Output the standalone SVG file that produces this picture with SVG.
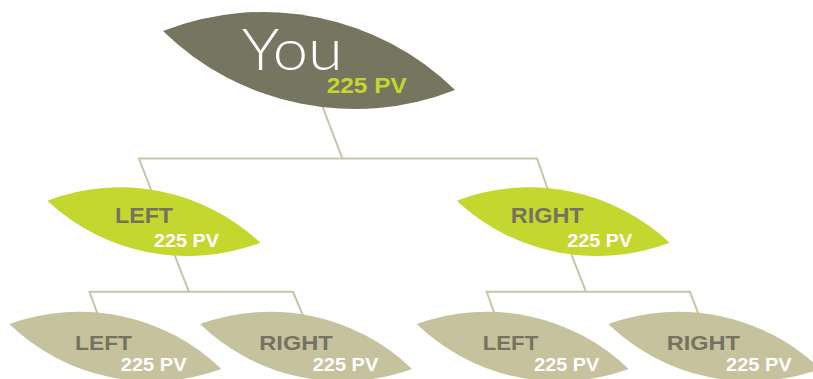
<svg xmlns="http://www.w3.org/2000/svg" width="813" height="379" viewBox="0 0 813 379">
<style>
.bg{fill:#ffffff}
.con{fill:none;stroke:#c9c5a5;stroke-width:2}
.you{fill:#76755f}
.lime{fill:#c3d72f}
.tan{fill:#c6c29e}
.lbl{font-family:"Liberation Sans",Arial,sans-serif;font-weight:bold;fill:#75735f}
.pvw{font-family:"Liberation Sans",Arial,sans-serif;font-weight:bold;fill:#ffffff}
.pvl{font-family:"Liberation Sans",Arial,sans-serif;font-weight:bold;fill:#c3d72f}
.youtxt{font-family:Lato,"Open Sans",sans-serif;font-weight:300;fill:#ffffff}
</style>
<defs>
<path id="leaf2" d="M0,0 A205.4,205.4 0 0 1 213,42 A205.4,205.4 0 0 1 0,0 Z"/>
<path id="leaf3" d="M0,0 A204.9,204.9 0 0 1 212,45 A204.9,204.9 0 0 1 0,0 Z"/>
</defs>
<rect class="bg" x="0" y="0" width="813" height="379"/>
<g id="connectors">
<path class="con" d="M320,100 L342.3,158.3"/>
<path class="con" d="M153,195 L139,158.5 H537 L548,190"/>
<path class="con" d="M172.6,250 L189,291.8"/>
<path class="con" d="M99,318 L89.5,291.8 H293 L304,318"/>
<path class="con" d="M569.6,250 L586,291.8"/>
<path class="con" d="M496,318 L486.7,291.8 H690 L700,318"/>
</g>
<g id="you">
<path class="you" d="M163,31 A274.3,274.3 0 0 1 455,90 A274.3,274.3 0 0 1 163,31 Z"/>
<text class="youtxt" x="241.7" y="70" font-size="57" textLength="101" lengthAdjust="spacingAndGlyphs">You</text>
<text class="pvl" x="326.7" y="92.7" font-size="21.4" textLength="80" lengthAdjust="spacingAndGlyphs">225 PV</text>
</g>
<g id="left">
<use href="#leaf2" class="lime" x="47.3" y="200.7"/>
<text class="lbl" x="115" y="222.7" font-size="21.4" textLength="58" lengthAdjust="spacingAndGlyphs">LEFT</text>
<text class="pvw" x="154" y="246.7" font-size="18.6" textLength="65" lengthAdjust="spacingAndGlyphs">225 PV</text>
</g>
<g id="right">
<use href="#leaf2" class="lime" x="456.7" y="200.7"/>
<text class="lbl" x="510.7" y="222.7" font-size="21.4" textLength="73" lengthAdjust="spacingAndGlyphs">RIGHT</text>
<text class="pvw" x="567.3" y="246.7" font-size="18.6" textLength="65" lengthAdjust="spacingAndGlyphs">225 PV</text>
</g>
<g id="left-left">
<use href="#leaf3" class="tan" x="9.3" y="324"/>
<text class="lbl" x="75" y="350" font-size="21" textLength="57" lengthAdjust="spacingAndGlyphs">LEFT</text>
<text class="pvw" x="120.7" y="370.7" font-size="18.6" textLength="66" lengthAdjust="spacingAndGlyphs">225 PV</text>
</g>
<g id="left-right">
<use href="#leaf3" class="tan" x="200" y="324"/>
<text class="lbl" x="259.3" y="350" font-size="21" textLength="73.4" lengthAdjust="spacingAndGlyphs">RIGHT</text>
<text class="pvw" x="312.7" y="370.7" font-size="18.6" textLength="65.6" lengthAdjust="spacingAndGlyphs">225 PV</text>
</g>
<g id="right-left">
<use href="#leaf3" class="tan" x="416.7" y="324"/>
<text class="lbl" x="482.7" y="350" font-size="21" textLength="55.6" lengthAdjust="spacingAndGlyphs">LEFT</text>
<text class="pvw" x="534.3" y="370.7" font-size="18.6" textLength="65" lengthAdjust="spacingAndGlyphs">225 PV</text>
</g>
<g id="right-right">
<use href="#leaf3" class="tan" x="608.3" y="324"/>
<text class="lbl" x="666.7" y="350" font-size="21" textLength="73.3" lengthAdjust="spacingAndGlyphs">RIGHT</text>
<text class="pvw" x="726" y="370.7" font-size="18.6" textLength="65.7" lengthAdjust="spacingAndGlyphs">225 PV</text>
</g>
</svg>
